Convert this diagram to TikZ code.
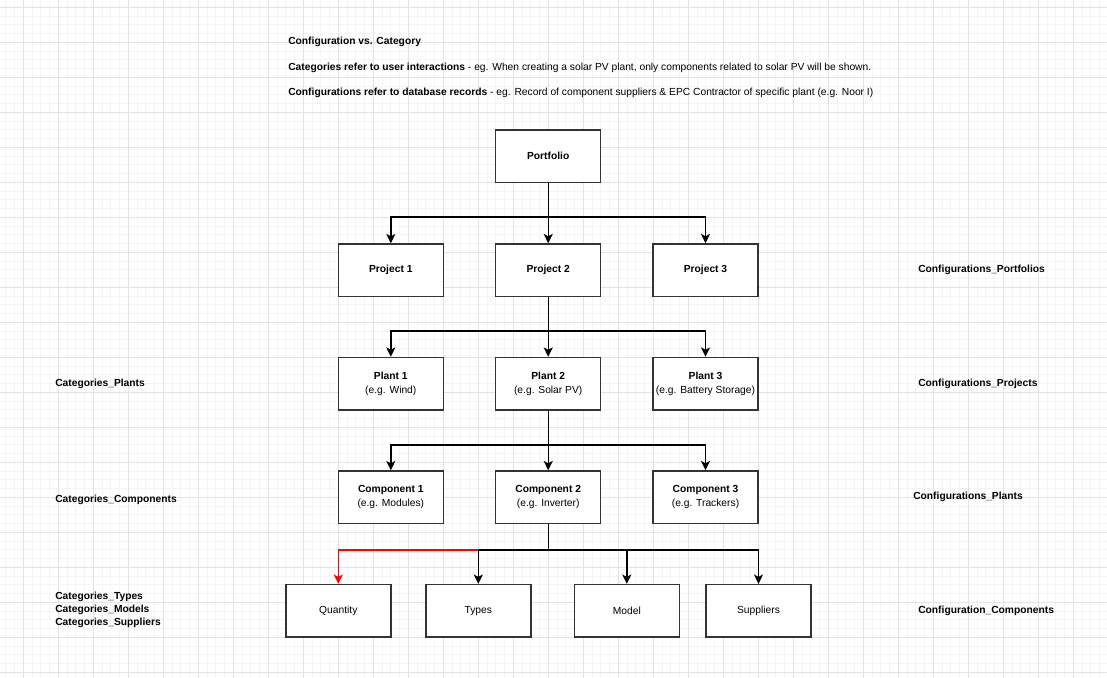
\documentclass[tikz,border=0pt]{standalone}
\usepackage{fontspec}
\setmainfont{Liberation Sans}
\usetikzlibrary{arrows.meta}

\begin{document}
\begin{tikzpicture}[
  x={(0.75pt,0)}, y={(0,-0.75pt)},
  txt/.style={font=\fontsize{7.7}{10.2}\selectfont},
  box/.style={txt, draw=black!80, line width=1.05pt, fill=white,
    minimum width=78.75pt, minimum height=39.375pt, inner sep=0pt, align=center},
  lbl/.style={anchor=west, inner sep=0pt, align=left, font=\fontsize{7.7}{9.75}\selectfont\bfseries},
  note/.style={txt, anchor=west, inner sep=0pt},
  link/.style={line width=1.05pt, draw=black,
    -{Stealth[length=7pt, width=6.8pt, inset=1.8pt]}},
  minorgrid/.style={draw=black!4, line width=0.55pt},
  majorgrid/.style={draw=black!11, line width=0.75pt}
]
% canvas and background grid
\useasboundingbox (0,0) rectangle (1107,678);
\fill[white] (0,0) rectangle (1107,678);
\begin{scope}
\clip (0,0) rectangle (1107,678);
\foreach \i in {-3,...,124} \draw[minorgrid] ({23.3+8.75*\i},0) -- ({23.3+8.75*\i},678);
\foreach \i in {-1,...,77} \draw[minorgrid] (0,{7.3+8.75*\i}) -- (1107,{7.3+8.75*\i});
\foreach \i in {-1,...,31} \draw[majorgrid] ({23.3+35*\i},0) -- ({23.3+35*\i},678);
\foreach \i in {0,...,19} \draw[majorgrid] (0,{7.3+35*\i}) -- (1107,{7.3+35*\i});
\end{scope}

% header notes
\node[note] (title) at (288,41.5) {\textbf{Configuration vs. Category}};
\node[note] (cat) at (288,67.5) {\textbf{Categories refer to user interactions} - eg. When creating a solar PV plant, only components related to solar PV will be shown.};
\node[note] (conf) at (288,92.5) {\textbf{Configurations refer to database records} - eg. Record of component suppliers \& EPC Contractor of specific plant (e.g. Noor I)};

% hierarchy boxes
\node[box] (pf) at (548.2,156.2) {\textbf{Portfolio}};

\node[box] (pj1) at (390.8,270.2) {\textbf{Project 1}};
\node[box] (pj2) at (548.2,270.2) {\textbf{Project 2}};
\node[box] (pj3) at (705.5,270.2) {\textbf{Project 3}};

\node[box] (pl1) at (390.8,383.7) {\textbf{Plant 1}\\(e.g. Wind)};
\node[box] (pl2) at (548.2,383.7) {\textbf{Plant 2}\\(e.g. Solar PV)};
\node[box] (pl3) at (705.5,383.7) {\textbf{Plant 3}\\(e.g. Battery Storage)};

\node[box] (c1) at (390.8,497.2) {\textbf{Component 1}\\(e.g. Modules)};
\node[box] (c2) at (548.2,497.2) {\textbf{Component 2}\\(e.g. Inverter)};
\node[box] (c3) at (705.5,497.2) {\textbf{Component 3}\\(e.g. Trackers)};

\node[box] (qty) at (338.3,610.8) {Quantity};
\node[box] (typ) at (478.3,610.8) {Types};
\node[box] (mdl) at (626.8,610.8) {Model};
\node[box] (sup) at (758.5,610.8) {Suppliers};

% bus levels
\coordinate (b1) at (548.2,217);
\coordinate (b2) at (548.2,331);
\coordinate (b3) at (548.2,445);
\coordinate (b4) at (548.2,550);

% connectors
\draw[link] (pf.south) -- (b1) -| (pj1.north);
\draw[link] (pf.south) -- (pj2.north);
\draw[link] (pf.south) -- (b1) -| (pj3.north);

\draw[link] (pj2.south) -- (b2) -| (pl1.north);
\draw[link] (pj2.south) -- (pl2.north);
\draw[link] (pj2.south) -- (b2) -| (pl3.north);

\draw[link] (pl2.south) -- (b3) -| (c1.north);
\draw[link] (pl2.south) -- (c2.north);
\draw[link] (pl2.south) -- (b3) -| (c3.north);

\draw[link, draw=red] (c2.south) -- (b4) -| (qty.north);
\draw[link] (c2.south) -- (b4) -| (typ.north);
\draw[link] (c2.south) -- (b4) -| (mdl.north);
\draw[link] (c2.south) -- (b4) -| (sup.north);

% side labels
\node[lbl] (lcp) at (55,383.5) {Categories\_Plants};
\node[lbl] (lcc) at (55,499.5) {Categories\_Components};
\node[lbl] (lct) at (55,609.5) {Categories\_Types\\Categories\_Models\\Categories\_Suppliers};

\node[lbl] (rpf) at (918,269.5) {Configurations\_Portfolios};
\node[lbl] (rpj) at (918,383.5) {Configurations\_Projects};
\node[lbl] (rpl) at (913,496.5) {Configurations\_Plants};
\node[lbl] (rco) at (918,610.5) {Configuration\_Components};
\end{tikzpicture}
\end{document}
